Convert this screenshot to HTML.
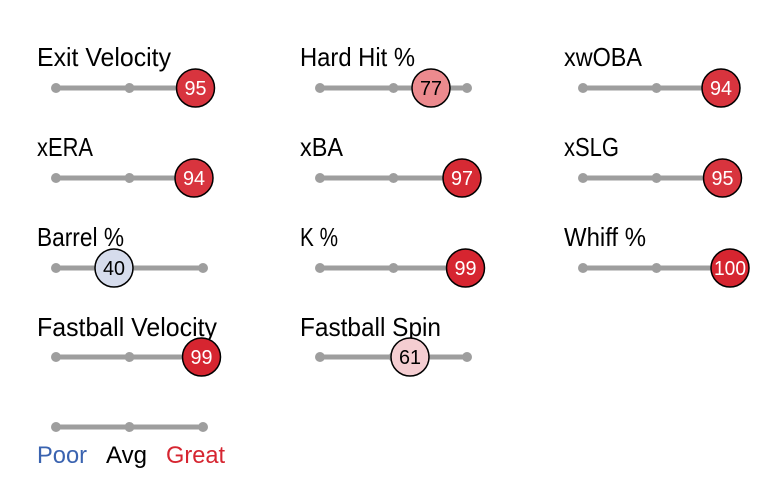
<!DOCTYPE html>
<html><head><meta charset="utf-8"><style>
html,body{margin:0;padding:0;background:#fff;}
svg{display:block;font-family:"Liberation Sans",sans-serif;}
.l{font-size:26px;fill:#000;}
.n{font-size:20px;text-anchor:middle;}
</style></head><body>
<svg width="759" height="482" viewBox="0 0 759 482">
<defs>
<g id="tr">
<line x1="0" y1="0" x2="147" y2="0" stroke="#9e9e9e" stroke-width="5"/>
<circle cx="0" cy="0" r="5" fill="#9e9e9e"/><circle cx="73.5" cy="0" r="5" fill="#9e9e9e"/><circle cx="147" cy="0" r="5" fill="#9e9e9e"/>
</g>
</defs>
<!-- row 1 -->
<text class="l" x="37" y="66" textLength="134" lengthAdjust="spacingAndGlyphs">Exit Velocity</text>
<use href="#tr" x="56" y="88"/>
<circle cx="195.5" cy="88" r="19" fill="#d8343e" stroke="#000" stroke-width="1.5"/>
<text class="n" x="195.5" y="95" fill="#fff" textLength="22" lengthAdjust="spacingAndGlyphs">95</text>

<text class="l" x="300" y="66" textLength="115" lengthAdjust="spacingAndGlyphs">Hard Hit %</text>
<use href="#tr" x="320" y="88"/>
<circle cx="431" cy="88" r="19" fill="#ec8a8e" stroke="#000" stroke-width="1.5"/>
<text class="n" x="431" y="95" fill="#000" textLength="22" lengthAdjust="spacingAndGlyphs">77</text>

<text class="l" x="564" y="66" textLength="78" lengthAdjust="spacingAndGlyphs">xwOBA</text>
<use href="#tr" x="583" y="88"/>
<circle cx="721" cy="88" r="19" fill="#d8343e" stroke="#000" stroke-width="1.5"/>
<text class="n" x="721" y="95" fill="#fff" textLength="22" lengthAdjust="spacingAndGlyphs">94</text>
<!-- row 2 -->
<text class="l" x="37" y="156" textLength="56" lengthAdjust="spacingAndGlyphs">xERA</text>
<use href="#tr" x="56" y="178"/>
<circle cx="194" cy="178" r="19" fill="#d8343e" stroke="#000" stroke-width="1.5"/>
<text class="n" x="194" y="185" fill="#fff" textLength="22" lengthAdjust="spacingAndGlyphs">94</text>

<text class="l" x="300" y="156" textLength="43" lengthAdjust="spacingAndGlyphs">xBA</text>
<use href="#tr" x="320" y="178"/>
<circle cx="462" cy="178" r="19" fill="#d62a34" stroke="#000" stroke-width="1.5"/>
<text class="n" x="462" y="185" fill="#fff" textLength="22" lengthAdjust="spacingAndGlyphs">97</text>

<text class="l" x="564" y="156" textLength="55" lengthAdjust="spacingAndGlyphs">xSLG</text>
<use href="#tr" x="583" y="178"/>
<circle cx="722.5" cy="178" r="19" fill="#d8343e" stroke="#000" stroke-width="1.5"/>
<text class="n" x="722.5" y="185" fill="#fff" textLength="22" lengthAdjust="spacingAndGlyphs">95</text>
<!-- row 3 -->
<text class="l" x="37" y="246" textLength="87" lengthAdjust="spacingAndGlyphs">Barrel %</text>
<use href="#tr" x="56" y="268"/>
<circle cx="114" cy="268" r="19" fill="#d6dcec" stroke="#000" stroke-width="1.5"/>
<text class="n" x="114" y="275" fill="#000" textLength="22" lengthAdjust="spacingAndGlyphs">40</text>

<text class="l" x="300" y="246" textLength="38" lengthAdjust="spacingAndGlyphs">K %</text>
<use href="#tr" x="320" y="268"/>
<circle cx="465.5" cy="268" r="19" fill="#d62530" stroke="#000" stroke-width="1.5"/>
<text class="n" x="465.5" y="275" fill="#fff" textLength="22" lengthAdjust="spacingAndGlyphs">99</text>

<text class="l" x="564" y="246" textLength="82" lengthAdjust="spacingAndGlyphs">Whiff %</text>
<use href="#tr" x="583" y="268"/>
<circle cx="730" cy="268" r="19" fill="#d62530" stroke="#000" stroke-width="1.5"/>
<text class="n" x="730" y="275" fill="#fff" textLength="32" lengthAdjust="spacingAndGlyphs">100</text>
<!-- row 4 -->
<text class="l" x="37" y="336" textLength="180" lengthAdjust="spacingAndGlyphs">Fastball Velocity</text>
<use href="#tr" x="56" y="357"/>
<circle cx="201.5" cy="357" r="19" fill="#d62530" stroke="#000" stroke-width="1.5"/>
<text class="n" x="201.5" y="364" fill="#fff" textLength="22" lengthAdjust="spacingAndGlyphs">99</text>

<text class="l" x="300" y="336" textLength="141" lengthAdjust="spacingAndGlyphs">Fastball Spin</text>
<use href="#tr" x="320" y="357"/>
<circle cx="410" cy="357" r="19" fill="#f4cdd1" stroke="#000" stroke-width="1.5"/>
<text class="n" x="410" y="364" fill="#000" textLength="22" lengthAdjust="spacingAndGlyphs">61</text>
<!-- legend -->
<use href="#tr" x="56" y="427"/>
<text x="37" y="463" font-size="24" fill="#3a63b0" textLength="50" lengthAdjust="spacingAndGlyphs">Poor</text>
<text x="106" y="463" font-size="24" fill="#000" textLength="41" lengthAdjust="spacingAndGlyphs">Avg</text>
<text x="166" y="463" font-size="24" fill="#d62530" textLength="59" lengthAdjust="spacingAndGlyphs">Great</text>
</svg>
</body></html>
